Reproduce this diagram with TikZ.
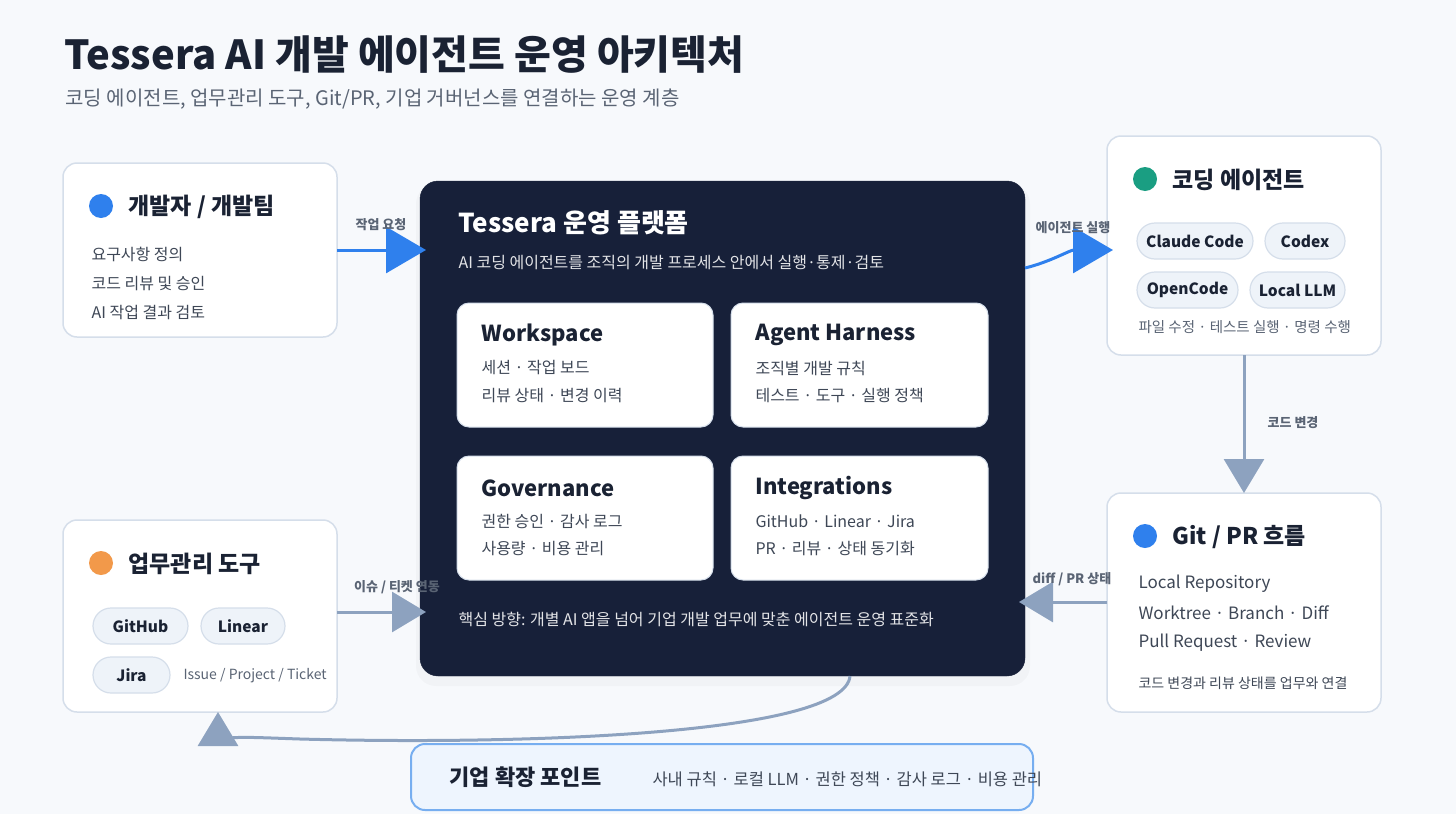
\documentclass[tikz,border=0pt]{standalone}
\usepackage{fontspec}
\setmainfont{Noto Sans CJK KR}
\usetikzlibrary{arrows.meta}
\definecolor{bg}{HTML}{F7F9FC}
\definecolor{navy}{HTML}{172039}
\definecolor{ink}{HTML}{1A2233}
\definecolor{txt}{HTML}{3E4756}
\definecolor{gry}{HTML}{5A6474}
\definecolor{bord}{HTML}{D5DEEA}
\definecolor{blu}{HTML}{2F80ED}
\definecolor{org}{HTML}{F2994A}
\definecolor{grn}{HTML}{1A9E82}
\definecolor{steel}{HTML}{8DA2BF}
\definecolor{pill}{HTML}{EEF3F9}
\definecolor{entf}{HTML}{EEF5FE}
\definecolor{entb}{HTML}{77AEF0}
\tikzset{
 card/.style={draw=bord,line width=1.5pt,fill=white,rounded corners=14pt},
 inner/.style={draw=bord,line width=1pt,fill=white,rounded corners=12pt},
 pillbox/.style={draw=bord,line width=1.2pt,fill=pill,rounded corners=18pt,font=\fontsize{15.5}{18}\selectfont\bfseries,text=ink},
 ctitle/.style={anchor=west,font=\fontsize{23}{28}\selectfont\bfseries,text=ink},
 ltxt/.style={anchor=west,font=\fontsize{16}{20}\selectfont,text=txt},
 ititle/.style={anchor=west,font=\fontsize{22}{26}\selectfont\bfseries,text=ink},
 albl/.style={font=\fontsize{13}{16}\selectfont\bfseries,text=gry},
 bluarr/.style={draw=blu,line width=3pt,-{Triangle[length=40pt,width=46pt]}},
 grarr/.style={draw=steel,line width=3pt,-{Triangle[length=34pt,width=40pt]}},
}
\begin{document}
\begin{tikzpicture}[x=1pt,y=-1pt]
\useasboundingbox (0,0) rectangle (1456,814);
\fill[bg] (0,0) rectangle (1456,814);
\node[anchor=west,font=\fontsize{40}{46}\selectfont\bfseries,text=ink] (title) at (61,55) {Tessera AI 개발 에이전트 운영 아키텍처};
\node[anchor=west,font=\fontsize{20}{24}\selectfont,text=gry] (sub) at (62,99) {코딩 에이전트, 업무관리 도구, Git/PR, 기업 거버넌스를 연결하는 운영 계층};
% developer
\draw[card] (63,163) rectangle (337,337);
\coordinate (dev) at (337,250);
\fill[blu] (101,206) circle (12);
\node[ctitle] (devt) at (125,207) {개발자 / 개발팀};
\node[ltxt] (d1) at (88,254) {요구사항 정의};
\node[ltxt] (d2) at (88,284) {코드 리뷰 및 승인};
\node[ltxt] (d3) at (88,313) {AI 작업 결과 검토};
% work tools
\draw[card] (63,520) rectangle (337,712);
\fill[org] (101,563) circle (12);
\node[ctitle] (wt) at (125,564) {업무관리 도구};
\node[pillbox,minimum width=95pt,minimum height=36pt] (gh) at (140.5,626) {GitHub};
\node[pillbox,minimum width=84pt,minimum height=36pt] (ln) at (243,626) {Linear};
\node[pillbox,minimum width=77pt,minimum height=36pt] (jr) at (131.5,675) {Jira};
\node[anchor=west,font=\fontsize{14}{17}\selectfont,text=gry] (ipt) at (180,676) {Issue / Project / Ticket};
% central
\fill[black,opacity=0.025,rounded corners=20pt] (416,184) rectangle (1030,686);
\draw[fill=navy,draw=navy,rounded corners=18pt] (420,181) rectangle (1025,676);
\node[anchor=west,font=\fontsize{26}{30}\selectfont\bfseries,text=white] (ct) at (455,223) {Tessera 운영 플랫폼};
\node[anchor=west,font=\fontsize{16}{20}\selectfont,text=white!88!navy] (cs) at (455,263) {AI 코딩 에이전트를 조직의 개발 프로세스 안에서 실행·통제·검토};
\draw[inner] (457,303) rectangle (713,427);
\node[ititle] (w1) at (478,335) {Workspace};
\node[ltxt] at (478,368) {세션 · 작업 보드};
\node[ltxt] at (478,396) {리뷰 상태 · 변경 이력};
\draw[inner] (731,303) rectangle (988,427);
\node[ititle] (w2) at (752,335) {Agent Harness};
\node[ltxt] at (752,368) {조직별 개발 규칙};
\node[ltxt] at (752,396) {테스트 · 도구 · 실행 정책};
\draw[inner] (457,456) rectangle (713,580);
\node[ititle] (w3) at (478,488) {Governance};
\node[ltxt] at (478,521) {권한 승인 · 감사 로그};
\node[ltxt] at (478,549) {사용량 · 비용 관리};
\draw[inner] (731,456) rectangle (988,580);
\node[ititle] (w4) at (752,488) {Integrations};
\node[ltxt] at (752,521) {GitHub · Linear · Jira};
\node[ltxt] at (752,549) {PR · 리뷰 · 상태 동기화};
\node[anchor=west,font=\fontsize{16}{20}\selectfont,text=white!88!navy] (cf) at (455,619) {핵심 방향: 개별 AI 앱을 넘어 기업 개발 업무에 맞춘 에이전트 운영 표준화};
\coordinate (cin1) at (426,250);
\coordinate (cin2) at (426,612);
\coordinate (cout) at (1025,268);
\coordinate (cdiff) at (1019,602);
\coordinate (cbot) at (850,676);
% coding agents
\draw[card] (1107,136) rectangle (1381,355);
\fill[grn] (1145,179) circle (12);
\node[ctitle] (cat) at (1169,180) {코딩 에이전트};
\node[pillbox,minimum width=116pt,minimum height=36pt] (cc) at (1195,241) {Claude Code};
\node[pillbox,minimum width=80pt,minimum height=36pt] (cx) at (1305,241) {Codex};
\node[pillbox,minimum width=101pt,minimum height=36pt] (oc) at (1187.5,290) {OpenCode};
\node[pillbox,minimum width=95pt,minimum height=36pt] (ll) at (1297.5,290) {Local LLM};
\node[anchor=west,font=\fontsize{14.5}{17}\selectfont,text=gry] (cad) at (1135,327) {파일 수정 · 테스트 실행 · 명령 수행};
\coordinate (ain) at (1113,250);
\coordinate (abot) at (1244,355);
% git
\draw[card] (1107,493) rectangle (1381,712);
\fill[blu] (1145,536) circle (12);
\node[ctitle] (gt) at (1169,537) {Git / PR 흐름};
\node[anchor=west,font=\fontsize{17}{20}\selectfont,text=txt] at (1135,584) {Local Repository};
\node[anchor=west,font=\fontsize{17}{20}\selectfont,text=txt] at (1135,613) {Worktree · Branch · Diff};
\node[anchor=west,font=\fontsize{17}{20}\selectfont,text=txt] at (1135,643) {Pull Request · Review};
\node[anchor=west,font=\fontsize{14}{17}\selectfont,text=txt] at (1135,683) {코드 변경과 리뷰 상태를 업무와 연결};
\coordinate (gtop) at (1244,493);
\coordinate (gleft) at (1107,602);
% enterprise
\draw[draw=entb,line width=2pt,fill=entf,rounded corners=14pt] (411,744) rectangle (1033,810);
\node[anchor=west,font=\fontsize{22}{26}\selectfont\bfseries,text=ink] (ent) at (446,777) {기업 확장 포인트};
\node[anchor=west,font=\fontsize{16.5}{20}\selectfont,text=txt] (entd) at (649,779) {사내 규칙 · 로컬 LLM · 권한 정책 · 감사 로그 · 비용 관리};
% arrows
\draw[bluarr] (dev) -- (cin1);
\node[albl] at (381,225) {작업 요청};
\draw[bluarr] (cout) .. controls (1050,262) and (1070,250) .. (ain);
\node[albl] at (1073,228) {에이전트 실행};
\draw[grarr] (abot) -- (gtop);
\node[albl] at (1293,423) {코드 변경};
\draw[grarr] (gleft) -- (cdiff);
\node[albl] at (1072,579) {diff / PR 상태};
\draw[grarr] (337,612) -- (cin2);
\node[albl] at (397,587) {이슈 / 티켓 연동};
\draw[grarr] (cbot) .. controls (845,735) and (520,745) .. (300,739) .. controls (240,737) and (218,735) .. (218,712);
\end{tikzpicture}
\end{document}
